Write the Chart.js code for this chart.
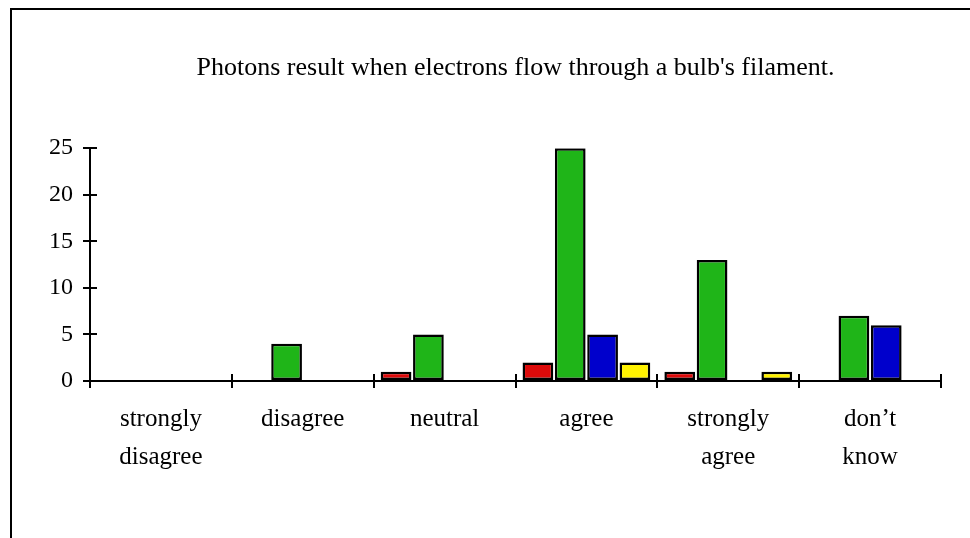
<!DOCTYPE html>
<html>
<head>
<meta charset="utf-8">
<script src="https://cdn.jsdelivr.net/npm/chart.js@4/dist/chart.umd.min.js"></script>
<style>
	html, body { margin: 0; padding: 0; background: #fff; }
	#wrap { position: relative; width: 970px; height: 538px; }
	#frame { position: absolute; left: 10px; top: 8px; right: -10px; bottom: -10px; border-left: 2px solid #000; border-top: 2px solid #000; }
	canvas { position: absolute; left: 0; top: 0; }
</style>
</head>
<body>
<div id="wrap">
	<div id="frame"></div>
	<canvas id="barChart" width="970" height="538"></canvas>
</div>
<script>
// datos
const categorias = [["strongly", "disagree"], "disagree", "neutral", "agree", ["strongly", "agree"], ["don\u2019t", "know"]];
const serieRoja = [null, null, 1, 2, 1, null];
const serieVerde = [null, 4, 5, 25, 13, 7];
const serieAzul = [null, null, null, 5, null, 6];
const serieAmarilla = [null, null, null, 2, 1, null];
const ticksY = [0, 5, 10, 15, 20, 25];

const fuente = "'Liberation Serif', 'Times New Roman', serif";

// marcas que cruzan el eje (la mitad interior)
const marcasInternas = {
	id: "marcasInternas",
	afterDraw(chart) {
		const ctx = chart.ctx;
		const x = chart.scales.x;
		const y = chart.scales.y;
		const area = chart.chartArea;
		ctx.save();
		ctx.strokeStyle = "#000";
		ctx.lineWidth = 2;
		ctx.beginPath();
		ticksY.forEach(v => {
			const py = Math.round(y.getPixelForValue(v));
			ctx.moveTo(area.left, py);
			ctx.lineTo(area.left + 7, py);
		});
		const paso = x.getPixelForValue(1) - x.getPixelForValue(0);
		for (let i = 0; i <= categorias.length; i++) {
			const px = Math.round(x.getPixelForValue(0) - paso / 2 + i * paso);
			ctx.moveTo(px, area.bottom);
			ctx.lineTo(px, area.bottom - 7);
		}
		ctx.stroke();
		ctx.restore();
	}
};

const ctx = document.getElementById("barChart").getContext("2d");
new Chart(ctx, {
	type: "bar",
	data: {
		labels: categorias,
		datasets: [
			{ data: serieRoja, backgroundColor: "#dd0a0a" },
			{ data: serieVerde, backgroundColor: "#1fb518" },
			{ data: serieAzul, backgroundColor: "#0000cc" },
			{ data: serieAmarilla, backgroundColor: "#fff200" }
		].map(d => Object.assign(d, {
			borderColor: "#000",
			borderWidth: 2.5,
			borderSkipped: false,
			categoryPercentage: 0.912,
			barPercentage: 0.95
		}))
	},
	options: {
		responsive: false,
		animation: false,
		layout: { padding: { left: 10, right: 29, top: 0, bottom: 0 } },
		plugins: {
			legend: { display: false },
			tooltip: { enabled: false },
			title: {
				display: true,
				fullSize: false,
				text: "Photons result when electrons flow through a bulb's filament.",
				color: "#000",
				font: { family: fuente, size: 26, weight: "normal", lineHeight: 1.2 },
				padding: { top: 53, bottom: 64 }
			}
		},
		scales: {
			x: {
				afterFit: s => { s.height = 157; },
				grid: { display: true, drawOnChartArea: false, offset: true, tickLength: 7, color: "#000", lineWidth: 2 },
				border: { color: "#000", width: 2 },
				ticks: {
					color: "#000",
					padding: 12,
					maxRotation: 0,
					autoSkip: false,
					font: { family: fuente, size: 25, lineHeight: 38 / 25 }
				}
			},
			y: {
				min: 0,
				max: 25,
				afterFit: s => { s.width = 80; },
				afterBuildTicks: s => { s.ticks = ticksY.map(v => ({ value: v })); },
				grid: { display: true, drawOnChartArea: false, tickLength: 7, color: "#000", lineWidth: 2 },
				border: { color: "#000", width: 2 },
				ticks: {
					color: "#000",
					padding: 10,
					font: { family: fuente, size: 24 }
				}
			}
		}
	},
	plugins: [marcasInternas]
});
</script>
</body>
</html>
